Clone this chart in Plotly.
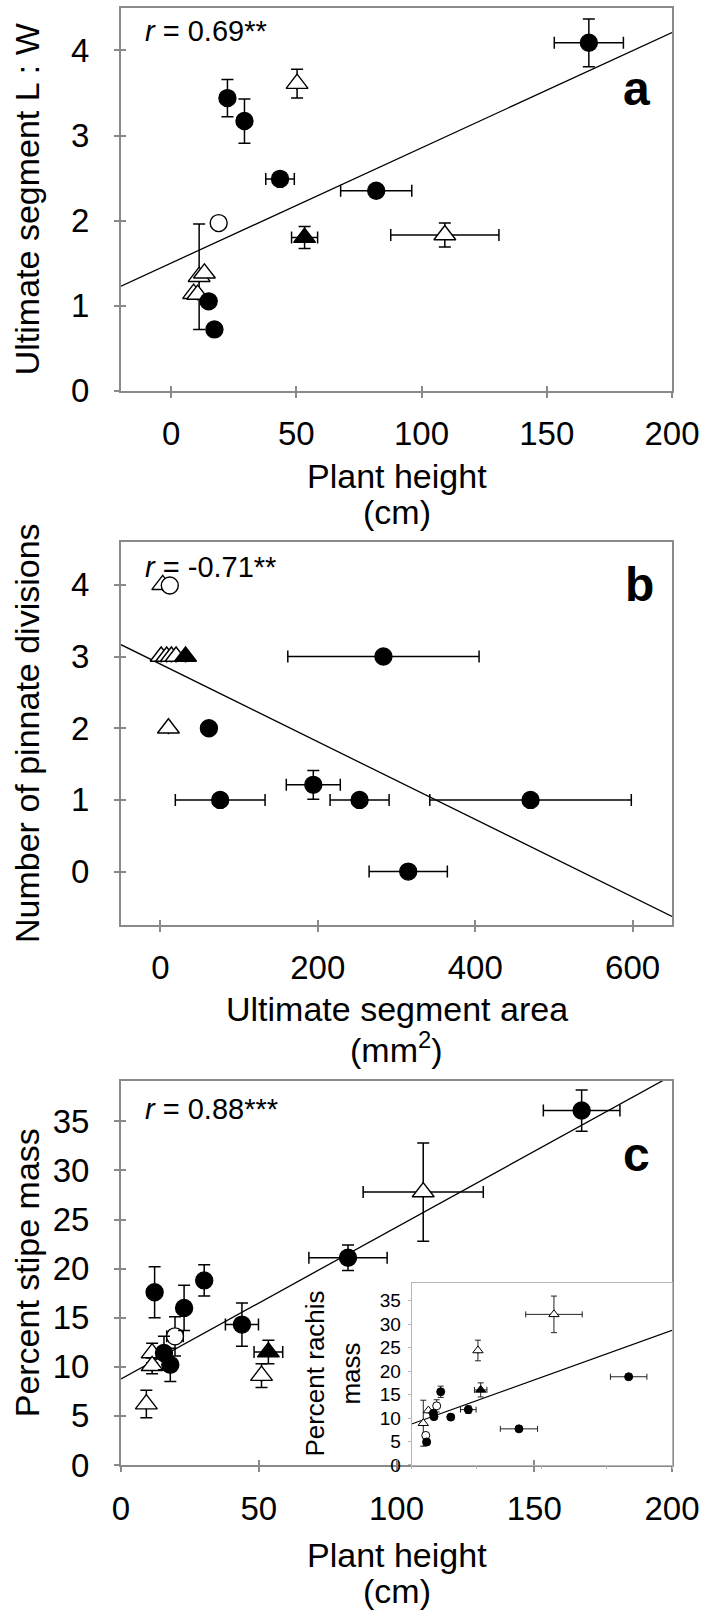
import plotly.graph_objects as go

# ---------------- data ----------------
# Panel a: plant height (cm) vs ultimate segment L:W
a_x = [166.8, 50.3, 22.5, 29.3, 43.5, 81.9, 19.0, 53.3, 109.3, 11.2, 13.3, 9.0, 10.6, 15.0, 17.3]
a_y = [4.09, 3.61, 3.44, 3.17, 2.49, 2.35, 1.97, 1.80, 1.83, 1.34, 1.38, 1.14, 1.13, 1.05, 0.72]
a_xerr = [13.8, 0, 0, 0, 5.7, 14.2, 0, 5.2, 21.6, 0, 0, 0, 0, 0, 0]
a_yerr = [0.28, 0.17, 0.22, 0.26, 0.07, 0.05, 0, 0.13, 0.14, 0.62, 0, 0, 0, 0, 0]
a_sym = ["fc", "ot", "fc", "fc", "fc", "fc", "oc", "ft", "ot", "ot", "ot", "ot", "ot", "fc", "fc"]
a_fit = (1.50, 0.01355)   # intercept, slope

# Panel b: ultimate segment area (mm2) vs number of pinnate divisions
b_x = [283.4, 3, 12, 1, 8, 14, 20, 32, 10.3, 61.7, 194.3, 76, 253.1, 470.3, 314.9]
b_y = [3, 4, 3.99, 3, 3, 3, 3, 3, 2, 2, 1.21, 1, 1, 1, 0]
b_xerr = [121.5, 0, 0, 0, 0, 0, 0, 0, 0, 0, 34.3, 57, 37.5, 128, 49.7]
b_yerr = [0, 0, 0, 0, 0, 0, 0, 0, 0, 0, 0.2, 0, 0, 0, 0]
b_sym = ["fc", "ot", "oc", "ot", "ot", "ot", "ot", "ft", "ot", "fc", "fc", "fc", "fc", "fc", "fc"]
b_fit = (2.894, -0.005414)

# Panel c: plant height (cm) vs percent stipe mass
c_x = [167.2, 109.7, 82.4, 30.2, 12.2, 22.9, 19.6, 43.9, 53.5, 51.0, 15.6, 17.9, 11.3, 11.3, 9.2]
c_y = [36.1, 27.8, 21.1, 18.8, 17.6, 16.0, 13.1, 14.3, 11.5, 9.1, 11.4, 10.2, 11.4, 10.1, 6.2]
c_xerr = [13.9, 21.8, 14.2, 0, 0, 0, 3.0, 6.0, 5.2, 0, 0, 0, 0, 0, 0]
c_yerr = [2.1, 5.0, 1.3, 1.6, 2.6, 2.3, 2.0, 2.2, 1.2, 1.2, 1.7, 1.7, 1.0, 0.8, 1.4]
c_sym = ["fc", "ot", "fc", "fc", "fc", "fc", "oc", "fc", "ft", "ot", "fc", "fc", "ot", "ot", "ot"]
c_fit = (8.77, 0.1545)

# Inset: plant height (cm) vs percent rachis mass
i_x = [109.3, 50.9, 166.7, 53.0, 22.3, 19.2, 43.5, 30.0, 16.6, 17.1, 12.8, 8.9, 10.8, 11.5, 82.4]
i_y = [32.1, 24.4, 18.8, 16.0, 15.6, 12.6, 11.8, 10.2, 11.0, 10.3, 11.6, 8.9, 6.3, 4.9, 7.7]
i_xerr = [21.7, 0, 14.0, 4.8, 0, 0, 6.0, 0, 0, 0, 0, 0, 0, 0, 14.3]
i_yerr = [3.9, 2.2, 0.5, 1.5, 1.2, 1.3, 0.8, 0, 0, 0, 0, 4.9, 0, 0.6, 0]
i_sym = ["ot", "ot", "fc", "ft", "fc", "oc", "fc", "fc", "fc", "fc", "ot", "ot", "oc", "fc", "fc"]
i_fit = (8.75, 0.0997)

# ---------------- styling ----------------
FONT = "Liberation Sans, Arial, sans-serif"
GREY = "#8a8a8a"
W, H = 706, 1619
ML, MR = 121, 34
PW = W - ML - MR

STY = {
    "ot": dict(symbol="triangle-up", fill="white"),
    "oc": dict(symbol="circle", fill="white"),
    "ft": dict(symbol="triangle-up", fill="black"),
    "fc": dict(symbol="circle", fill="black"),
}
ORDER = ["ot", "oc", "ft", "fc"]

fig = go.Figure()


def add_panel(xs, ys, xe, ye, syms, fit, xr, xa, ya, small=False):
    b0, b1 = fit
    fig.add_trace(go.Scatter(x=[xr[0], xr[1]], y=[b0 + b1 * xr[0], b0 + b1 * xr[1]],
                             mode="lines", line=dict(color="black", width=1.3 if not small else 1.1),
                             xaxis=xa, yaxis=ya, showlegend=False, hoverinfo="skip"))
    for key in ORDER:
        idx = [i for i, s in enumerate(syms) if s == key]
        if not idx:
            continue
        st = STY[key]
        if small:
            size = 9 if "triangle" in st["symbol"] else 8
        else:
            size = 19 if "triangle" in st["symbol"] else 17
        fig.add_trace(go.Scatter(
            x=[xs[i] for i in idx], y=[ys[i] for i in idx], mode="markers",
            marker=dict(symbol=st["symbol"], size=size, color=st["fill"],
                        line=dict(color="black", width=1.4 if not small else 1)),
            error_x=dict(type="data", array=[xe[i] for i in idx], color="#222" if small else "black",
                         thickness=1.5 if not small else 1, width=6 if not small else 3),
            error_y=dict(type="data", array=[ye[i] for i in idx], color="#222" if small else "black",
                         thickness=1.5 if not small else 1, width=6 if not small else 3),
            xaxis=xa, yaxis=ya, showlegend=False))


add_panel(a_x, a_y, a_xerr, a_yerr, a_sym, a_fit, (-20, 200), "x", "y")
add_panel(b_x, b_y, b_xerr, b_yerr, b_sym, b_fit, (-50, 650), "x2", "y2")
add_panel(c_x, c_y, c_xerr, c_yerr, c_sym, c_fit, (0, 200), "x3", "y3")
add_panel(i_x, i_y, i_xerr, i_yerr, i_sym, i_fit, (0, 200), "x4", "y4", small=True)

# empty traces so the inner-tick twin axes get drawn
for xa, ya in [("x5", "y5"), ("x6", "y6"), ("x7", "y7")]:
    fig.add_trace(go.Scatter(x=[], y=[], xaxis=xa, yaxis=ya, showlegend=False, hoverinfo="skip"))


def py(px):  # pixel from top -> paper y
    return 1 - px / H


def pxx(px):  # pixel from left -> paper x
    return (px - ML) / PW


def main_axis(rng, dtick, tick0=0, dom=None, anchor=None, standoff=20):
    d = dict(range=rng, dtick=dtick, tick0=tick0, showline=True, linecolor=GREY, linewidth=2,
             mirror=True, ticks="outside", ticklen=5, tickwidth=1.5, tickcolor=GREY,
             showgrid=False, zeroline=False, tickfont=dict(size=33, color="black", family=FONT),
             ticklabelstandoff=standoff, automargin=False, fixedrange=True)
    if dom is not None:
        d["domain"] = dom
    if anchor is not None:
        d["anchor"] = anchor
    return d


def inner_axis(rng, dtick, dom, anchor):
    return dict(range=rng, dtick=dtick, tick0=0, domain=dom, anchor=anchor, showline=False,
                ticks="inside", ticklen=5, tickwidth=1.5, tickcolor=GREY, showticklabels=False,
                showgrid=False, zeroline=False, fixedrange=True)


dom_a = [py(393.3), py(8)]
dom_b = [py(931), py(545.5)]
dom_c = [py(1475), py(1088.5)]
dom_i = [py(1475), py(1291.7)]

layout = dict(
    width=W, height=H, margin=dict(l=ML, r=MR, t=0, b=0),
    paper_bgcolor="white", plot_bgcolor="rgba(0,0,0,0)",
    font=dict(family=FONT, color="black"),
    xaxis=main_axis([-20, 200], 50, dom=[0, 1], anchor="y", standoff=8),
    yaxis=main_axis([0, 4.5], 1, dom=dom_a, anchor="x", standoff=18),
    xaxis2=main_axis([-50, 650], 200, dom=[0, 1], anchor="y2", standoff=8),
    yaxis2=main_axis([-0.74, 4.6], 1, dom=dom_b, anchor="x2", standoff=18),
    xaxis3=main_axis([0, 200], 50, dom=[0, 1], anchor="y3", standoff=8),
    yaxis3=main_axis([0, 39.1], 5, dom=dom_c, anchor="x3", standoff=18),
    xaxis4=dict(range=[0, 200], dtick=50, domain=[pxx(411.7), 1], anchor="y4", showline=True,
                linecolor="#b5b5b5", linewidth=1.2, mirror=True, ticks="outside", ticklen=3,
                tickcolor="#b5b5b5", showticklabels=False, showgrid=False, zeroline=False,
                fixedrange=True),
    yaxis4=dict(range=[0, 38.8], dtick=5, domain=dom_i, anchor="x4", showline=True,
                linecolor="#b5b5b5", linewidth=1.2, mirror=True, ticks="outside", ticklen=3,
                tickcolor="#b5b5b5", showgrid=False, zeroline=False,
                tickfont=dict(size=19, color="black", family=FONT), ticklabelstandoff=3,
                fixedrange=True),
    xaxis5=inner_axis([-20, 200], 50, [0, 1], "y5"),
    yaxis5=inner_axis([0, 4.5], 1, dom_a, "x5"),
    xaxis6=inner_axis([-50, 650], 200, [0, 1], "y6"),
    yaxis6=inner_axis([-0.74, 4.6], 1, dom_b, "x6"),
    xaxis7=inner_axis([0, 200], 50, [0, 1], "y7"),
    yaxis7=inner_axis([0, 39.1], 5, dom_c, "x7"),
)
fig.update_layout(**layout)

ann = []


def text(x_px, y_px, s, size, angle=0, xanchor="center"):
    ann.append(dict(x=pxx(x_px), y=py(y_px), xref="paper", yref="paper", text=s, showarrow=False,
                    xanchor=xanchor, yanchor="middle", textangle=angle,
                    font=dict(size=size, family=FONT, color="black")))


# y-axis titles
text(27, 200.6, "Ultimate segment L : W", 34, angle=-90)
text(27, 738, "Number of pinnate divisions", 34, angle=-90)
text(27, 1282, "Percent stipe mass", 34, angle=-90)
# x-axis titles
text(396.5, 479, "Plant height", 34)
text(396.5, 515, "(cm)", 34)
text(396.5, 1016, "Ultimate segment area", 34)
text(396.5, 1055, "(mm<sup>2</sup>)", 34)
text(396.5, 1566, "Plant height", 34)
text(396.5, 1602, "(cm)", 34)
# correlation labels
text(143, 31, "<i>r</i> = 0.69**", 29, xanchor="left")
text(143, 571, "<i>r</i> = -0.71**", 29, xanchor="left")
text(143, 1117, "<i>r</i> = 0.88***", 29, xanchor="left")
# panel letters
text(636, 89, "<b>a</b>", 48)
text(639, 588, "<b>b</b>", 48)
text(636, 1162, "<b>c</b>", 48)
# inset y title
text(315, 1383, "Percent rachis", 26, angle=-90)
text(351, 1383, "mass", 26, angle=-90)

fig.update_layout(annotations=ann)
fig.write_html("out.html")
